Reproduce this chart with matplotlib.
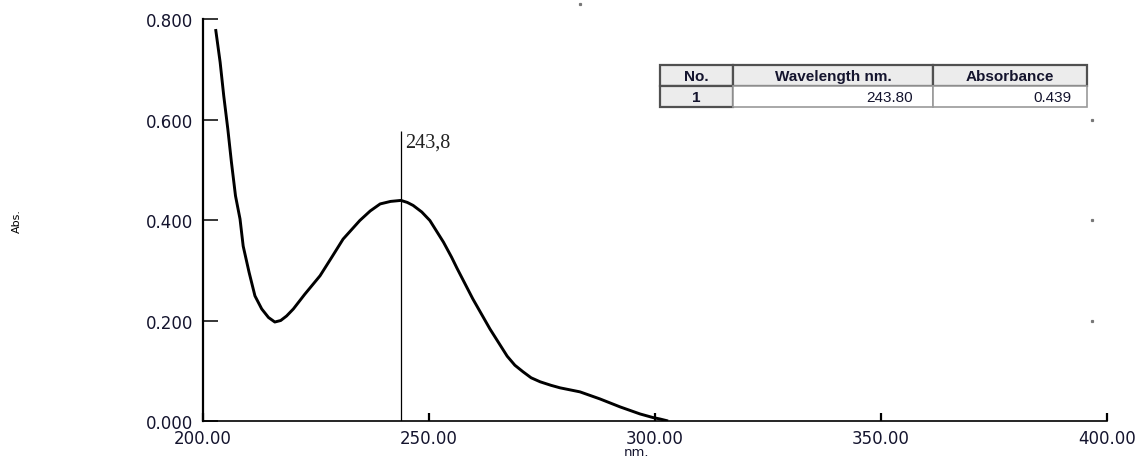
import matplotlib
matplotlib.use("Agg")
import matplotlib.pyplot as plt
from matplotlib.table import Table

# spectrum
wavelength = [202.8, 203.8, 204.6, 205.5, 206.3, 207.2, 208.2, 208.9, 210.2, 211.5,
              213.0, 214.5, 215.9, 217.2, 218.5, 220.0, 222.5, 225.9, 228.5, 231.0,
              234.7, 237.0, 239.2, 241.5, 243.8, 245.2, 246.5, 248.4, 250.2, 253.2,
              255.0, 256.2, 259.7, 263.5, 267.3, 269.0, 270.8, 272.6, 274.6, 277.0,
              279.0, 283.4, 287.8, 292.3, 296.7, 299.5, 301.1, 302.9]
absorbance = [0.780, 0.714, 0.647, 0.581, 0.515, 0.448, 0.402, 0.348, 0.296, 0.249,
              0.223, 0.206, 0.197, 0.200, 0.209, 0.223, 0.252, 0.289, 0.326, 0.362,
              0.399, 0.418, 0.432, 0.437, 0.439, 0.435, 0.429, 0.416, 0.399, 0.356,
              0.326, 0.304, 0.243, 0.183, 0.129, 0.111, 0.098, 0.086, 0.078, 0.071,
              0.066, 0.058, 0.044, 0.028, 0.014, 0.007, 0.004, 0.000]

peak_wl = 243.8
peak_label = "243,8"
peak_line_top = 0.577

x_ticks = [200, 250, 300, 350, 400]
y_ticks = [0.0, 0.2, 0.4, 0.6, 0.8]

table_header = ["No.", "Wavelength nm.", "Absorbance"]
table_row = ["1", "243.80", "0.439"]

# leftover dots of the cropped right axis
stray_x = [396.7, 396.7, 396.7, 283.4]
stray_y = [0.6, 0.4, 0.2, 0.83]

label_color = "#14142e"

fig = plt.figure(figsize=(11.46, 4.6), dpi=100)
ax = fig.add_axes([0.1771, 0.0826, 0.7889, 0.8739])

ax.plot(wavelength, absorbance, color="black", lw=2.1,
        solid_joinstyle="round", solid_capstyle="butt")
ax.vlines(peak_wl, 0, peak_line_top, color="black", lw=0.9)
ax.text(peak_wl + 0.9, 0.547, peak_label, family="Liberation Serif", fontsize=14.5,
        va="baseline", ha="left", color="#222222")

ax.plot(stray_x, stray_y, ls="none", marker="s", ms=1.3, color="#777777", clip_on=False)

ax.set_xlim(200, 400)
ax.set_ylim(0, 0.8)
ax.set_xticks(x_ticks)
ax.set_xticklabels([f"{v:.2f}" for v in x_ticks])
ax.set_yticks(y_ticks)
ax.set_yticklabels([f"{v:.3f}" for v in y_ticks])

for side in ["top", "right"]:
    ax.spines[side].set_visible(False)
ax.spines["left"].set_linewidth(1.6)
ax.spines["bottom"].set_linewidth(1.2)

ax.tick_params(axis="y", direction="in", length=11, width=1.1, pad=7,
               labelsize=12, labelcolor=label_color)
ax.tick_params(axis="x", direction="in", length=6, width=1.6, pad=5.5,
               labelsize=12, labelcolor=label_color)

ax.set_xlabel("nm.", fontsize=9.5, color=label_color, va="bottom")
ax.xaxis.set_label_coords(0.479, -0.0915)
ax.set_ylabel("Abs.", fontsize=8, color="black")
ax.yaxis.set_label_coords(-0.2, 0.5)

# peak table
tab = Table(ax, bbox=[0.5055, 0.781, 0.4725, 0.1045])
col_w = [73, 200, 154]
for c, txt in enumerate(table_header):
    cell = tab.add_cell(0, c, width=col_w[c], height=1, text=txt, loc="center",
                        facecolor="#ececec", edgecolor="#505050")
    cell.set_linewidth(1.6)
    cell.get_text().set_fontweight("bold")
for c, txt in enumerate(table_row):
    loc = "center" if c == 0 else "right"
    face = "#ececec" if c == 0 else "white"
    cell = tab.add_cell(1, c, width=col_w[c], height=1, text=txt, loc=loc,
                        facecolor=face, edgecolor="#505050" if c == 0 else "#9a9a9a")
    cell.set_linewidth(1.6 if c == 0 else 1.2)
    if c == 0:
        cell.get_text().set_fontweight("bold")
tab.auto_set_font_size(False)
tab.set_fontsize(11)
for cell in tab.get_celld().values():
    cell.get_text().set_color(label_color)
    cell.get_text().set_family("Liberation Sans")
ax.add_table(tab)

fig.savefig("out.png", dpi=100)
